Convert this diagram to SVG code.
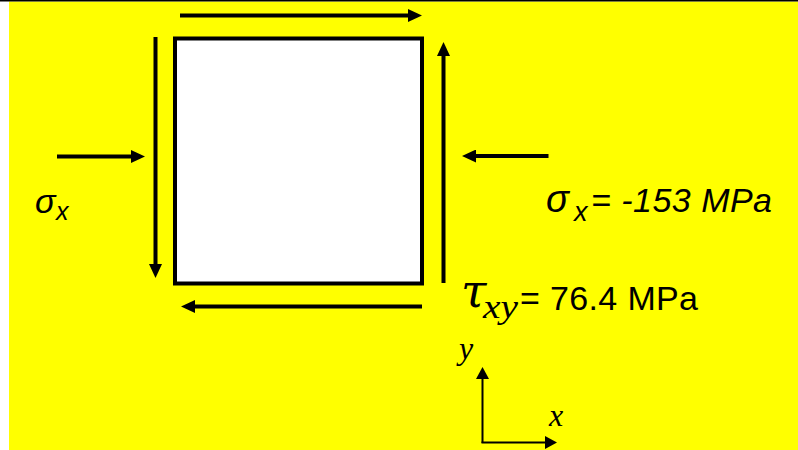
<svg xmlns="http://www.w3.org/2000/svg" width="798" height="450" viewBox="0 0 798 450">
  <style>
    .arr { stroke: #000; stroke-width: 4; fill: none; }
    .ax { stroke: #000; stroke-width: 2; fill: none; }
    .sans { font-family: "Liberation Sans", Arial, sans-serif; fill: #000; }
    .serif { font-family: "Liberation Serif", "Times New Roman", serif; font-style: italic; fill: #000; }
  </style>
  <defs>
    <marker id="head" markerUnits="userSpaceOnUse" markerWidth="14" markerHeight="13" refX="2" refY="6.5" orient="auto">
      <path d="M0,0 L14,6.5 L0,13 Z" fill="#000"/>
    </marker>
    <marker id="headSmall" markerUnits="userSpaceOnUse" markerWidth="12" markerHeight="13" refX="1" refY="6.5" orient="auto">
      <path d="M0,0 L12,6.5 L0,13 Z" fill="#000"/>
    </marker>
  </defs>

  <rect x="0" y="0" width="798" height="450" fill="#fff"/>
  <rect x="9" y="1.5" width="789" height="448.5" fill="#ffff00"/>
  <line x1="0" y1="0.75" x2="798" y2="0.75" stroke="#000" stroke-width="1.5"/>

  <g id="element">
    <rect x="175" y="38.5" width="247" height="245" fill="#fff" stroke="#000" stroke-width="4"/>
  </g>

  <g id="connectors">
    <line class="arr" x1="180" y1="15.5" x2="410" y2="15.5" marker-end="url(#head)"/>
    <line class="arr" x1="422" y1="306.5" x2="193" y2="306.5" marker-end="url(#head)"/>
    <line class="arr" x1="155.5" y1="37" x2="155.5" y2="266" marker-end="url(#head)"/>
    <line class="arr" x1="443.5" y1="283" x2="443.5" y2="54" marker-end="url(#head)"/>
    <line class="arr" x1="57" y1="156.5" x2="133" y2="156.5" marker-end="url(#head)"/>
    <line class="arr" x1="548.5" y1="156" x2="474" y2="156" marker-end="url(#head)"/>
    <line class="ax" x1="482.5" y1="443" x2="482.5" y2="378" marker-end="url(#headSmall)"/>
    <line class="ax" x1="481.5" y1="442.5" x2="546" y2="442.5" marker-end="url(#headSmall)"/>
  </g>

  <g id="label-sigma-left">
    <text class="sans" font-style="italic" font-size="34" x="35" y="213">σ</text>
    <text class="sans" font-style="italic" font-size="25" x="56" y="220">x</text>
  </g>

  <g id="label-sigma-right">
    <text class="sans" font-style="italic" font-size="38" x="546" y="212">σ</text>
    <text class="sans" font-style="italic" font-size="27" x="574" y="221">x</text>
    <text class="sans" font-style="italic" font-size="34" x="591" y="212" textLength="181" lengthAdjust="spacing">= -153 MPa</text>
  </g>

  <g id="label-tau">
    <text font-family="'DejaVu Serif', serif" font-style="italic" font-size="46" x="461" y="307">τ</text>
    <text class="serif" font-size="33" x="483" y="318" textLength="35" lengthAdjust="spacingAndGlyphs">xy</text>
    <text class="sans" font-size="34" x="520" y="310" textLength="178" lengthAdjust="spacing">= 76.4 MPa</text>
  </g>

  <g id="axes-labels">
    <text class="serif" font-size="32" x="459" y="359">y</text>
    <text class="serif" font-size="32" x="549" y="426">x</text>
  </g>
</svg>
